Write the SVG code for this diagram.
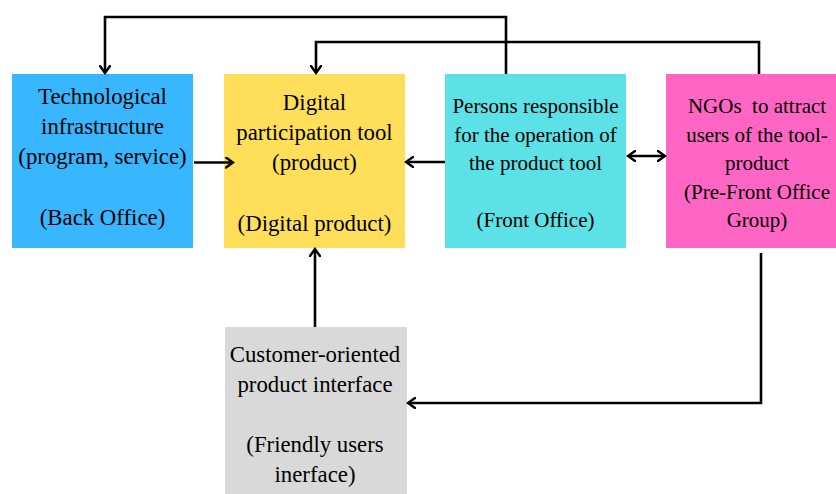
<svg xmlns="http://www.w3.org/2000/svg" width="836" height="494" viewBox="0 0 836 494">
  <style>
    .lbl { font-family: "Liberation Serif", "Times New Roman", serif; fill: #000; text-anchor: middle; }
    .big { font-size: 22.8px; }
    .mid { font-size: 21px; }
    .wire { fill: none; stroke: #000; stroke-width: 2.6; stroke-linejoin: miter; }
  </style>
  <defs>
    <marker id="head" markerUnits="userSpaceOnUse" viewBox="0 0 10 12" markerWidth="10" markerHeight="12" refX="8" refY="6" orient="auto-start-reverse">
      <path d="M1,1 L8,6 L1,11" fill="none" stroke="#000" stroke-width="2.4" stroke-linecap="round" stroke-linejoin="miter"/>
    </marker>
  </defs>

  <rect width="836" height="494" fill="#fff"/>

  <!-- Back office -->
  <g id="back-office">
    <rect x="12" y="74" width="181" height="174" fill="#38B6FF"/>
    <text class="lbl big" x="102.5" y="104">Technological</text>
    <text class="lbl big" x="102.5" y="134">infrastructure</text>
    <text class="lbl big" x="102.5" y="164">(program, service)</text>
    <text class="lbl big" x="102.5" y="225">(Back Office)</text>
  </g>

  <!-- Digital product -->
  <g id="digital-product">
    <rect x="224" y="74" width="181" height="174" fill="#FFDE59"/>
    <text class="lbl big" x="314.5" y="110">Digital</text>
    <text class="lbl big" x="314.5" y="140">participation tool</text>
    <text class="lbl big" x="314.5" y="170">(product)</text>
    <text class="lbl big" x="314.5" y="231">(Digital product)</text>
  </g>

  <!-- Front office -->
  <g id="front-office">
    <rect x="445" y="74" width="181" height="174" fill="#5CE1E6"/>
    <text class="lbl mid" x="535.5" y="113">Persons responsible</text>
    <text class="lbl mid" x="535.5" y="141.5">for the operation of</text>
    <text class="lbl mid" x="535.5" y="170">the product tool</text>
    <text class="lbl mid" x="535.5" y="227">(Front Office)</text>
  </g>

  <!-- Pre-front office group -->
  <g id="pre-front-office">
    <rect x="666" y="74" width="182" height="174" fill="#FF66C4"/>
    <text class="lbl mid" x="757" y="113">NGOs&#160; to attract</text>
    <text class="lbl mid" x="757" y="141.5">users of the tool-</text>
    <text class="lbl mid" x="757" y="170">product</text>
    <text class="lbl mid" x="757" y="198.5">(Pre-Front Office</text>
    <text class="lbl mid" x="757" y="227">Group)</text>
  </g>

  <!-- Customer interface -->
  <g id="customer-interface">
    <rect x="225" y="327" width="182" height="170" fill="#D9D9D9"/>
    <text class="lbl big" x="315" y="362">Customer-oriented</text>
    <text class="lbl big" x="315" y="392">product interface</text>
    <text class="lbl big" x="315" y="452">(Friendly users</text>
    <text class="lbl big" x="315" y="482">inerface)</text>
  </g>

  <!-- Connectors -->
  <g id="connectors">
    <path class="wire" d="M506,74 V17 H105 V73" marker-end="url(#head)"/>
    <path class="wire" d="M759,74 V42 H316 V73" marker-end="url(#head)"/>
    <path class="wire" d="M194,162.5 H233" marker-end="url(#head)"/>
    <path class="wire" d="M445,162 H406" marker-end="url(#head)"/>
    <path class="wire" d="M628,156 H665" marker-start="url(#head)" marker-end="url(#head)"/>
    <path class="wire" d="M315,327 V249" marker-end="url(#head)"/>
    <path class="wire" d="M761,253 V403 H408" marker-end="url(#head)"/>
  </g>
</svg>
